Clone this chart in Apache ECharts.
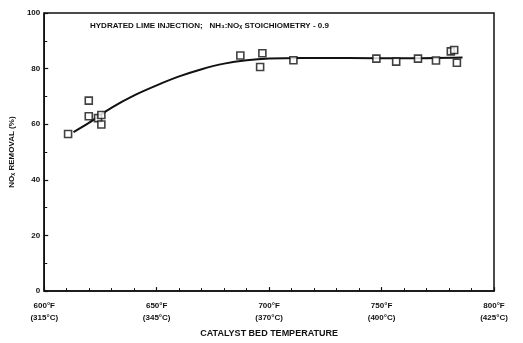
<!DOCTYPE html>
<html>
<head>
<meta charset="utf-8">
<script src="https://cdn.jsdelivr.net/npm/echarts@6/dist/echarts.min.js"></script>
<style>
  html, body { margin: 0; padding: 0; background: #fff; }
  #chart { width: 523px; height: 343px; }
</style>
</head>
<body>
<div id="chart"></div>
<script>
// Measured NOx removal vs. catalyst bed temperature (°F)
const tempF = [610.6, 619.8, 619.8, 623.9, 625.4, 625.4, 687.2, 696.0, 697.0, 710.8, 747.7, 756.5, 766.2, 774.2, 780.8, 782.3, 783.5];
const removal = [56.5, 68.5, 62.9, 62.2, 63.3, 59.9, 84.7, 80.6, 85.5, 83.0, 83.6, 82.5, 83.6, 82.9, 86.2, 86.7, 82.1];

// Hand-drawn trend curve through the data
const curveF = [613, 620, 630, 640, 650, 660, 670, 680, 690, 700, 715, 735, 760, 786];
const curveY = [57.2, 60.6, 66.0, 70.4, 74.0, 77.2, 79.8, 81.8, 83.0, 83.6, 83.8, 83.8, 83.7, 84.0];

// Axis tick labels
const xTickValues = [600, 650, 700, 750, 800];
const xTickLabels = ['600°F\n(315°C)', '650°F\n(345°C)', '700°F\n(370°C)', '750°F\n(400°C)', '800°F\n(425°C)'];
const yTickValues = [0, 20, 40, 60, 80, 100];

const FONT = 'Liberation Sans, Arial, DejaVu Sans, sans-serif';

const chart = echarts.init(document.getElementById('chart'), null, { renderer: 'canvas' });
chart.setOption({
  backgroundColor: '#ffffff',
  animation: false,
  title: {
    text: 'HYDRATED LIME INJECTION;   NH₃:NOₓ STOICHIOMETRY - 0.9',
    left: 85,
    top: 17,
    textStyle: { fontFamily: FONT, fontSize: 8, fontWeight: 'bold', color: '#111' }
  },
  grid: { left: 42, right: 29, top: 13, bottom: 45, show: true, borderColor: '#111', borderWidth: 1.5, backgroundColor: 'transparent' },
  xAxis: {
    type: 'value',
    min: 600, max: 800, interval: 50,
    name: 'CATALYST BED TEMPERATURE',
    nameLocation: 'middle',
    nameGap: 33,
    nameTextStyle: { fontFamily: FONT, fontSize: 9, fontWeight: 'bold', color: '#111' },
    axisLine: { show: true, lineStyle: { color: '#111', width: 1.5 } },
    axisTick: { show: true, inside: true, length: 4, lineStyle: { color: '#111', width: 1.2 } },
    minorTick: { show: true, splitNumber: 5, length: 3, lineStyle: { color: '#111', width: 1 } },
    splitLine: { show: false },
    axisLabel: {
      margin: 9,
      fontFamily: FONT, fontSize: 8, fontWeight: 'bold', color: '#111', lineHeight: 12,
      formatter: v => { const i = xTickValues.indexOf(v); return i >= 0 ? xTickLabels[i] : ''; }
    }
  },
  yAxis: {
    type: 'value',
    min: 0, max: 100, interval: 20,
    name: 'NOₓ REMOVAL (%)',
    nameLocation: 'middle',
    nameRotate: 90,
    nameGap: 22,
    nameTextStyle: { fontFamily: FONT, fontSize: 8, fontWeight: 'bold', color: '#111' },
    axisLine: { show: true, lineStyle: { color: '#111', width: 1.5 } },
    axisTick: { show: true, inside: true, length: 4, lineStyle: { color: '#111', width: 1.2 } },
    minorTick: { show: true, splitNumber: 2, length: 3, lineStyle: { color: '#111', width: 1 } },
    splitLine: { show: false },
    axisLabel: {
      margin: 4,
      fontFamily: FONT, fontSize: 8, fontWeight: 'bold', color: '#111',
      formatter: v => (yTickValues.indexOf(v) >= 0 ? String(v) : '')
    }
  },
  series: [
    {
      type: 'line',
      data: curveF.map((f, i) => [f, curveY[i]]),
      smooth: 0.3,
      showSymbol: false,
      lineStyle: { color: '#111', width: 2 },
      z: 2
    },
    {
      type: 'scatter',
      data: tempF.map((f, i) => [f, removal[i]]),
      symbol: 'rect',
      symbolSize: 7,
      itemStyle: { color: '#ffffff', borderColor: '#111', borderWidth: 1.6 },
      z: 3
    }
  ]
});
</script>
</body>
</html>
